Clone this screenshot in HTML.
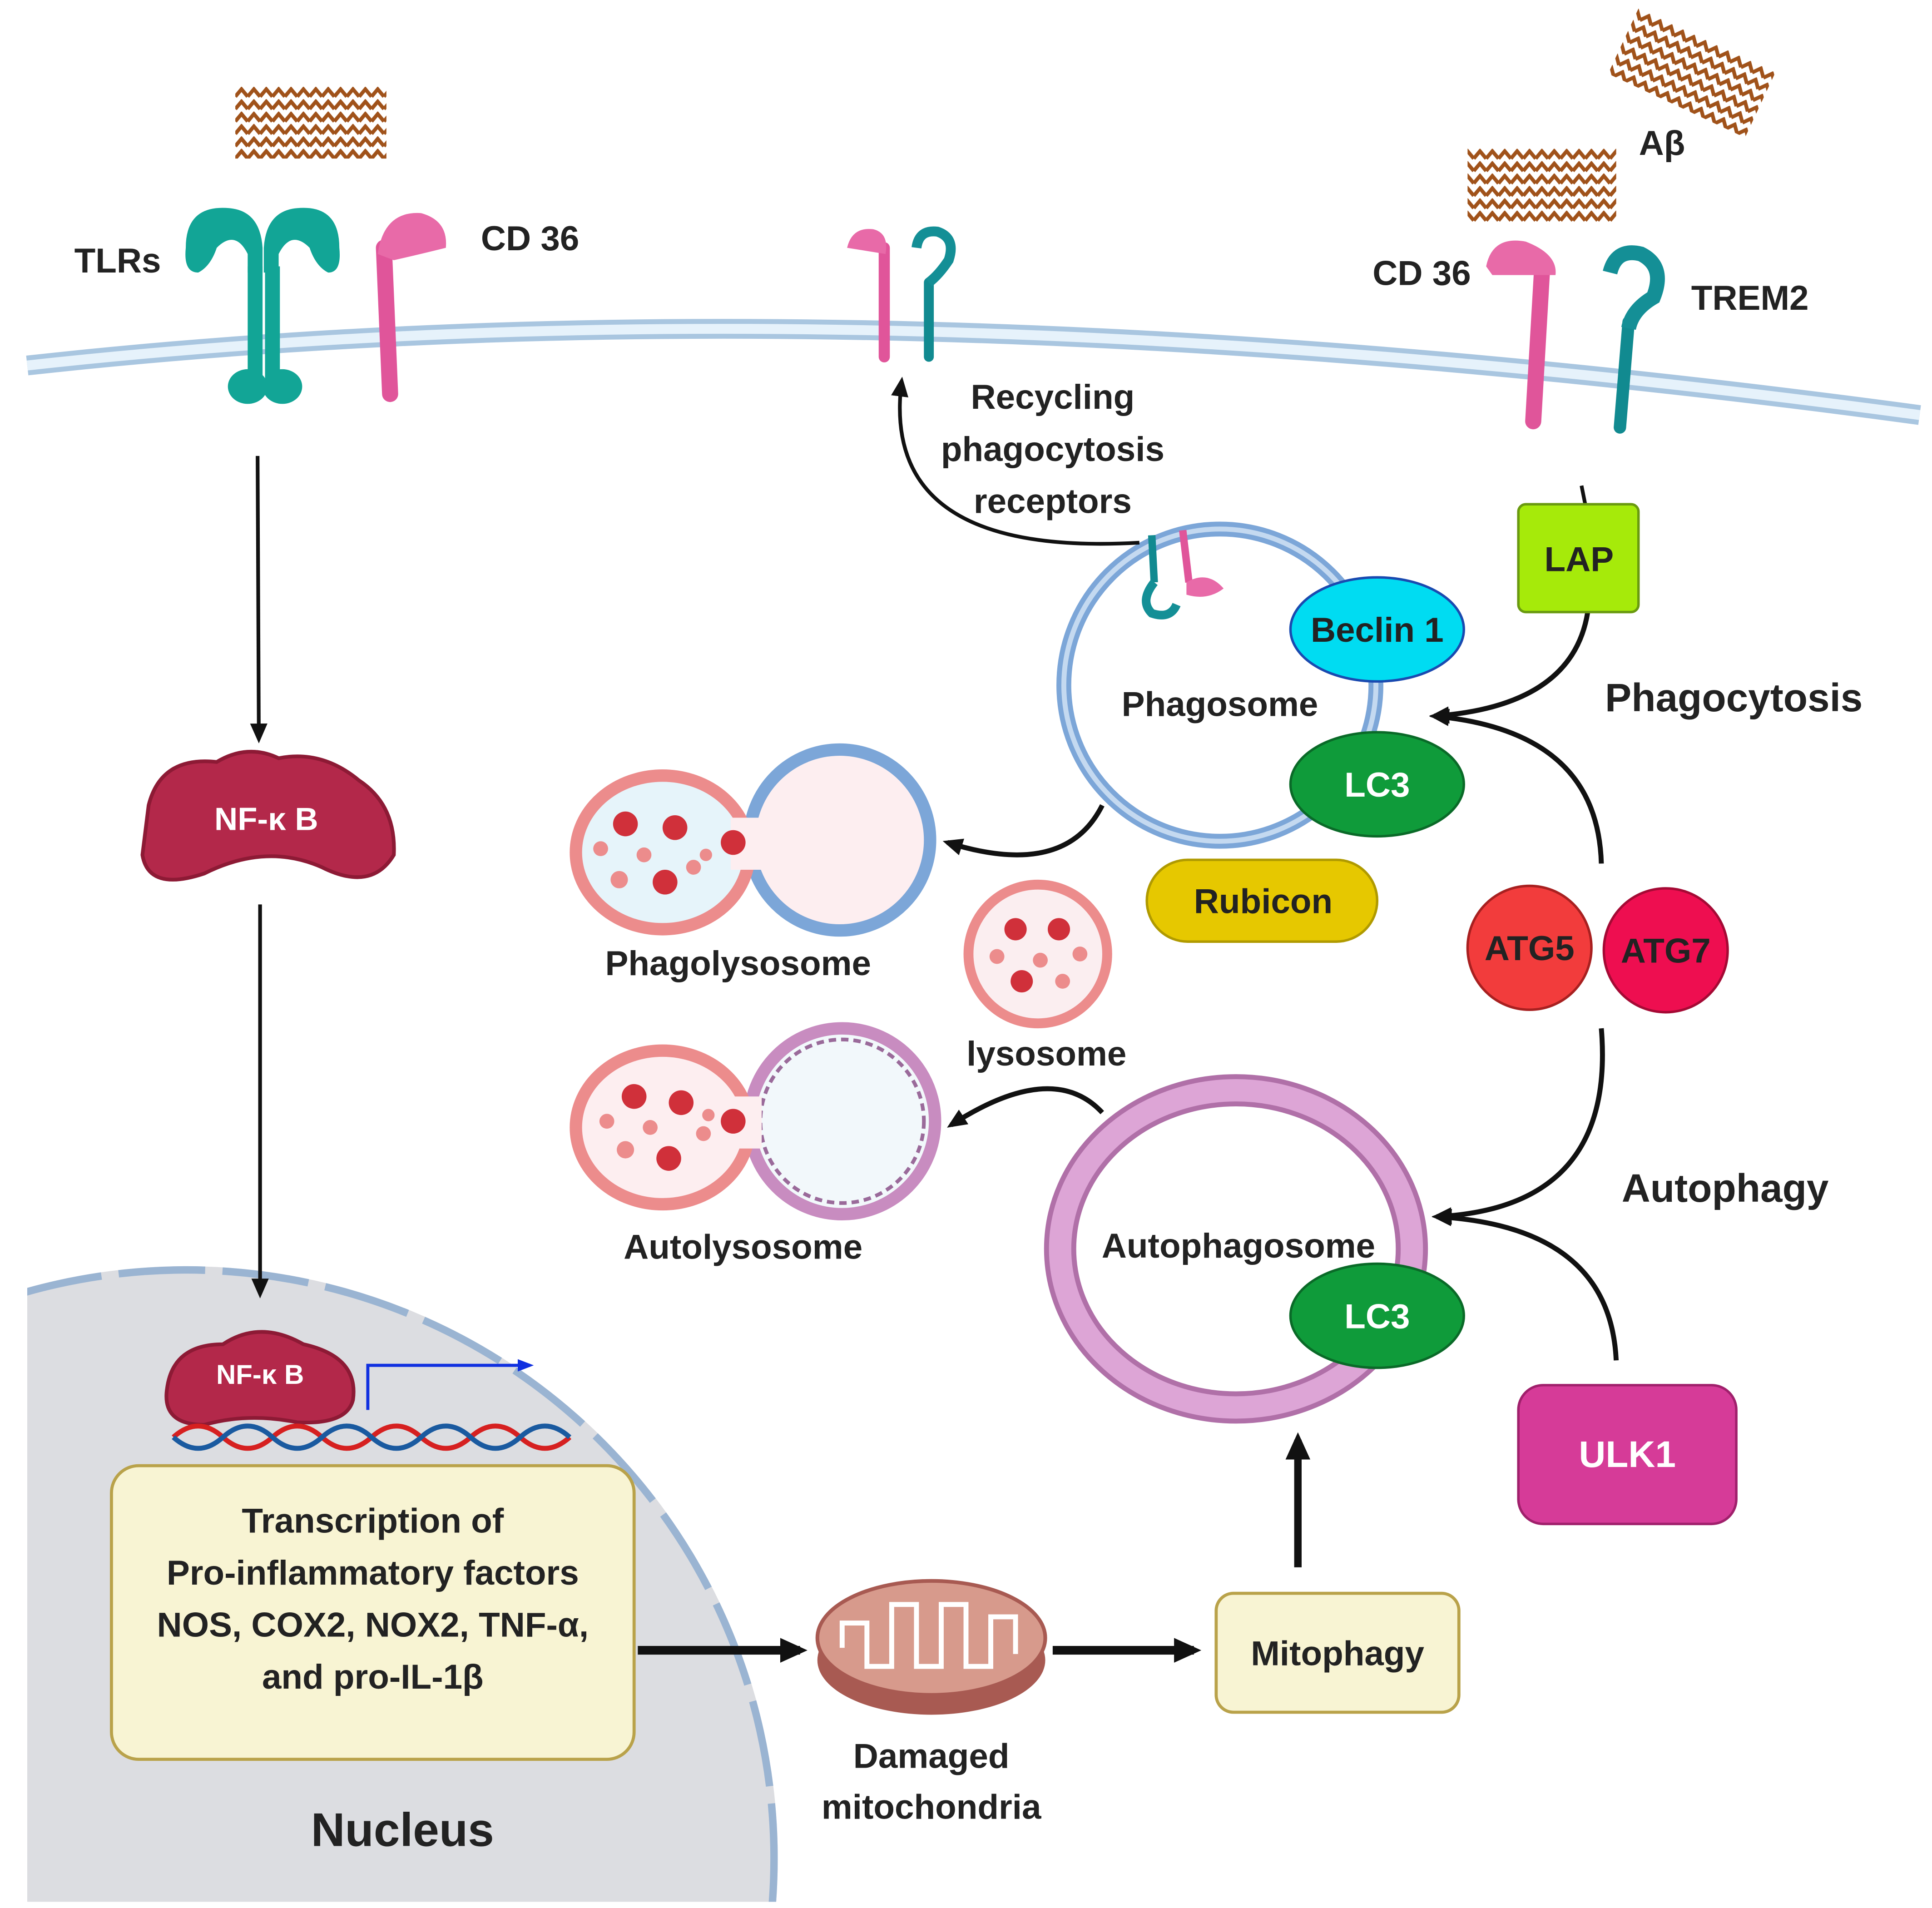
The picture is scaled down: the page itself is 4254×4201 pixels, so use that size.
<!DOCTYPE html>
<html><head><meta charset="utf-8"><style>
html,body{margin:0;padding:0;background:#fff;overflow:hidden;width:4254px;height:4201px;}
svg{display:block;}
text{font-family:"Liberation Sans",sans-serif;font-weight:bold;fill:#222;}
</style></head><body>
<svg width="4254" height="4201" viewBox="0 0 1560 1540" preserveAspectRatio="none" xmlns="http://www.w3.org/2000/svg">
<defs>
<marker id="ah" markerWidth="24" markerHeight="24" refX="16" refY="12" orient="auto" markerUnits="userSpaceOnUse">
<path d="M0,2 L22,12 L0,22 Z" fill="#111"/></marker>
<marker id="ahs" markerWidth="18" markerHeight="18" refX="12" refY="9" orient="auto" markerUnits="userSpaceOnUse">
<path d="M0,2 L16,9 L0,16 Z" fill="#111"/></marker>
<marker id="ahb" markerWidth="14" markerHeight="14" refX="10" refY="7" orient="auto" markerUnits="userSpaceOnUse">
<path d="M0,2 L13,7 L0,12 Z" fill="#1030e0"/></marker>
<pattern id="fib" width="10" height="10" patternUnits="userSpaceOnUse">
<rect width="10" height="10" fill="#fff"/>
<path d="M0,8 L5,2 L10,8" stroke="#a0521a" stroke-width="3" fill="none"/></pattern>
<clipPath id="pg"><rect x="22" y="0" width="1560" height="1535"/></clipPath>
</defs>
<rect width="1560" height="1540" fill="#fff"/>

<!-- nucleus -->
<g clip-path="url(#pg)">
<circle cx="150" cy="1500" r="478" fill="#dcdde1"/>
<circle cx="150" cy="1500" r="475" fill="none" stroke="#9ab4d2" stroke-width="6" stroke-dasharray="70 14"/>
</g>

<!-- membrane -->
<path d="M22,295 Q700,220 1550,335" fill="none" stroke="#a9c6e0" stroke-width="16"/>
<path d="M22,295 Q700,220 1550,335" fill="none" stroke="#e6f2fb" stroke-width="8"/>

<!-- fibrils -->
<rect x="190" y="70" width="122" height="58" fill="url(#fib)"/>
<rect x="1185" y="120" width="120" height="60" fill="url(#fib)"/>
<rect x="1305" y="30" width="122" height="58" fill="url(#fib)" transform="rotate(25 1366 59)"/>
<rect x="955" y="498" width="60" height="30" fill="url(#fib)" transform="rotate(-12 985 513)"/>

<!-- TLRs -->
<g fill="#12a596">
<path d="M150,200 Q150,165 185,168 Q210,170 212,200 L212,220 L200,220 L200,205 Q190,185 175,200 Q170,215 160,220 Q148,220 150,200Z"/>
<path d="M274,200 Q274,165 240,168 Q215,170 213,200 L213,220 L225,220 L225,205 Q235,185 250,200 Q255,215 265,220 Q276,220 274,200Z"/>
<rect x="200" y="215" width="12" height="90"/><rect x="214" y="215" width="12" height="90"/>
<ellipse cx="200" cy="312" rx="16" ry="14"/><ellipse cx="228" cy="312" rx="16" ry="14"/>
</g>
<text x="95" y="220" font-size="28" text-anchor="middle">TLRs</text>
<!-- CD36 left -->
<path d="M310,200 L315,318" stroke="#e0559a" stroke-width="13" stroke-linecap="round"/>
<path d="M305,205 Q310,170 340,172 Q362,178 360,200 Q340,205 318,210Z" fill="#e86aa8"/>
<text x="428" y="202" font-size="28" text-anchor="middle">CD 36</text>

<!-- recycled receptors -->
<path d="M714,200 L714,288" stroke="#e0559a" stroke-width="9" stroke-linecap="round"/>
<path d="M684,200 Q688,183 705,185 Q718,188 715,205Z" fill="#e86aa8"/>
<path d="M750,228 L750,288" stroke="#118a90" stroke-width="8" stroke-linecap="round"/>
<path d="M740,200 Q742,185 757,187 Q772,192 766,210 Q758,222 750,228" fill="none" stroke="#148f96" stroke-width="8"/>

<!-- right receptors -->
<path d="M1245,220 L1238,340" stroke="#e0559a" stroke-width="13" stroke-linecap="round"/>
<path d="M1200,215 Q1205,190 1232,195 Q1258,205 1256,222 Q1230,222 1205,222Z" fill="#e86aa8"/>
<path d="M1315,260 L1308,345" stroke="#118a90" stroke-width="10" stroke-linecap="round"/>
<path d="M1300,220 Q1305,200 1325,205 Q1345,215 1335,240 Q1318,250 1315,265" fill="none" stroke="#148f96" stroke-width="12"/>
<text x="1148" y="230" font-size="28" text-anchor="middle">CD 36</text>
<text x="1413" y="250" font-size="28" text-anchor="middle">TREM2</text>
<text x="1342" y="125" font-size="28" text-anchor="middle">Aβ</text>

<!-- left arrows -->
<line x1="208" y1="368" x2="209" y2="596" stroke="#111" stroke-width="3" marker-end="url(#ahs)"/>
<path d="M120,650 Q130,610 175,615 Q200,600 225,612 Q260,605 290,630 Q320,650 318,690 Q300,720 260,700 Q215,680 165,705 Q120,720 115,690Z" fill="#b3284a" stroke="#8d1a35" stroke-width="3"/>
<text x="215" y="670" font-size="26" text-anchor="middle" style="fill:#fff">NF-κ B</text>
<line x1="210" y1="730" x2="210" y2="1044" stroke="#111" stroke-width="3" marker-end="url(#ahs)"/>

<!-- nucleus contents -->
<path d="M135,1120 Q140,1085 180,1085 Q210,1065 245,1085 Q290,1095 285,1130 Q280,1150 240,1148 Q200,1140 165,1150 Q130,1150 135,1120Z" fill="#b3284a" stroke="#8d1a35" stroke-width="3"/>
<text x="210" y="1117" font-size="22" text-anchor="middle" style="fill:#fff">NF-κ B</text>
<path d="M140,1160 q20,-18 40,0 t40,0 t40,0 t40,0 t40,0 t40,0 t40,0 t40,0" fill="none" stroke="#d62020" stroke-width="4"/>
<path d="M140,1160 q20,18 40,0 t40,0 t40,0 t40,0 t40,0 t40,0 t40,0 t40,0" fill="none" stroke="#1a5aa0" stroke-width="4"/>
<path d="M297,1138 L297,1102 L428,1102" fill="none" stroke="#1030e0" stroke-width="2.5" marker-end="url(#ahb)"/>
<rect x="90" y="1183" width="422" height="237" rx="22" fill="#f8f4d3" stroke="#b9a24a" stroke-width="2.5"/>
<text font-size="28" text-anchor="middle"><tspan x="301" y="1237">Transcription of</tspan><tspan x="301" y="1279">Pro-inflammatory factors</tspan><tspan x="301" y="1321">NOS, COX2, NOX2, TNF-α,</tspan><tspan x="301" y="1363">and pro-IL-1β</tspan></text>
<text x="325" y="1490" font-size="38" text-anchor="middle">Nucleus</text>

<!-- mitochondria -->
<line x1="515" y1="1332" x2="646" y2="1332" stroke="#111" stroke-width="7" marker-end="url(#ah)"/>
<ellipse cx="752" cy="1340" rx="92" ry="44" fill="#a85a52"/>
<ellipse cx="752" cy="1322" rx="92" ry="46" fill="#d79a8c" stroke="#a85a52" stroke-width="3"/>
<path d="M680,1330 L680,1310 L700,1310 L700,1345 L720,1345 L720,1295 L740,1295 L740,1345 L760,1345 L760,1295 L780,1295 L780,1345 L800,1345 L800,1305 L820,1305 L820,1335" fill="none" stroke="#fff" stroke-width="4"/>
<text font-size="28" text-anchor="middle"><tspan x="752" y="1427">Damaged</tspan><tspan x="752" y="1468">mitochondria</tspan></text>
<line x1="850" y1="1332" x2="964" y2="1332" stroke="#111" stroke-width="7" marker-end="url(#ah)"/>
<rect x="982" y="1286" width="196" height="96" rx="14" fill="#f8f4d3" stroke="#b9a24a" stroke-width="2.5"/>
<text x="1080" y="1344" font-size="28" text-anchor="middle">Mitophagy</text>
<line x1="1048" y1="1265" x2="1048" y2="1162" stroke="#111" stroke-width="6" marker-end="url(#ah)"/>

<!-- autophagosome -->
<ellipse cx="998" cy="1008" rx="142" ry="128" fill="none" stroke="#b070a8" stroke-width="26"/>
<ellipse cx="998" cy="1008" rx="142" ry="128" fill="none" stroke="#dda5d6" stroke-width="18"/>
<text x="1000" y="1015" font-size="28" text-anchor="middle">Autophagosome</text>
<ellipse cx="1112" cy="1062" rx="70" ry="42" fill="#0f9b3a" stroke="#0a6a28" stroke-width="2"/>
<text x="1112" y="1072" font-size="28" text-anchor="middle" style="fill:#fff">LC3</text>

<!-- ULK1 & ATGs -->
<rect x="1226" y="1118" width="176" height="112" rx="20" fill="#d63b98" stroke="#a0206c" stroke-width="2"/>
<text x="1314" y="1184" font-size="30" text-anchor="middle" style="fill:#fff">ULK1</text>
<path d="M1305,1098 Q1300,990 1160,982" fill="none" stroke="#111" stroke-width="4" marker-end="url(#ahs)"/>
<path d="M1293,830 Q1305,975 1160,982" fill="none" stroke="#111" stroke-width="4" marker-end="url(#ahs)"/>
<text x="1393" y="970" font-size="32" text-anchor="middle">Autophagy</text>
<circle cx="1235" cy="765" r="50" fill="#f23c3c" stroke="#a82020" stroke-width="2"/>
<circle cx="1345" cy="767" r="50" fill="#ee0e50" stroke="#a50a35" stroke-width="2"/>
<text x="1235" y="775" font-size="28" text-anchor="middle">ATG5</text>
<text x="1345" y="777" font-size="28" text-anchor="middle">ATG7</text>
<path d="M1293,697 Q1290,590 1158,578" fill="none" stroke="#111" stroke-width="4" marker-end="url(#ahs)"/>
<path d="M1282,494 Q1270,570 1158,578" fill="none" stroke="#111" stroke-width="4" marker-end="url(#ahs)"/>
<line x1="1277" y1="392" x2="1280" y2="407" stroke="#111" stroke-width="3"/>
<rect x="1226" y="407" width="97" height="87" rx="6" fill="#a6ea0a" stroke="#6a9a10" stroke-width="2"/>
<text x="1275" y="461" font-size="28" text-anchor="middle">LAP</text>
<text x="1400" y="574" font-size="32" text-anchor="middle">Phagocytosis</text>

<!-- phagosome -->
<circle cx="985" cy="553" r="126" fill="#fff" stroke="#7ca6d8" stroke-width="12"/>
<circle cx="985" cy="553" r="126" fill="none" stroke="#c4d9f0" stroke-width="4"/>
<path d="M930,432 L932,470" stroke="#118a90" stroke-width="6"/>
<path d="M932,470 Q920,485 930,495 Q945,500 950,488" fill="none" stroke="#148f96" stroke-width="7"/>
<path d="M955,428 L960,470" stroke="#e0559a" stroke-width="6"/>
<path d="M958,470 Q975,460 988,475 Q975,485 958,480Z" fill="#e86aa8"/>
<text x="985" y="578" font-size="28" text-anchor="middle">Phagosome</text>
<ellipse cx="1112" cy="508" rx="70" ry="42" fill="#00dcf2" stroke="#1a4ab0" stroke-width="2"/>
<text x="1112" y="518" font-size="28" text-anchor="middle">Beclin 1</text>
<ellipse cx="1112" cy="633" rx="70" ry="42" fill="#0f9b3a" stroke="#0a6a28" stroke-width="2"/>
<text x="1112" y="643" font-size="28" text-anchor="middle" style="fill:#fff">LC3</text>
<rect x="926" y="694" width="186" height="66" rx="33" fill="#e6c800" stroke="#b09a00" stroke-width="2"/>
<text x="1020" y="737" font-size="28" text-anchor="middle">Rubicon</text>

<!-- recycling -->
<path d="M920,438 Q710,450 728,308" fill="none" stroke="#111" stroke-width="3" marker-end="url(#ahs)"/>
<text font-size="28" text-anchor="middle"><tspan x="850" y="330">Recycling</tspan><tspan x="850" y="372">phagocytosis</tspan><tspan x="850" y="414">receptors</tspan></text>

<!-- phagolysosome -->
<path d="M890,650 Q860,710 765,680" fill="none" stroke="#111" stroke-width="4" marker-end="url(#ahs)"/>
<circle cx="678" cy="678" r="73" fill="#fdeef0" stroke="#7ca6d8" stroke-width="10"/>
<ellipse cx="535" cy="688" rx="70" ry="62" fill="#e6f4fa" stroke="#ec8c8c" stroke-width="10"/>
<rect x="590" y="660" width="30" height="42" fill="#fdeef0"/>
<g fill="#d0303a"><circle cx="505" cy="665" r="10"/><circle cx="545" cy="668" r="10"/><circle cx="592" cy="680" r="10"/><circle cx="537" cy="712" r="10"/></g>
<g fill="#ec8c8c"><circle cx="485" cy="685" r="6"/><circle cx="520" cy="690" r="6"/><circle cx="500" cy="710" r="7"/><circle cx="560" cy="700" r="6"/><circle cx="570" cy="690" r="5"/></g>
<text x="596" y="787" font-size="28" text-anchor="middle">Phagolysosome</text>

<!-- lysosome -->
<circle cx="838" cy="770" r="56" fill="#fbeef0" stroke="#ec8c8c" stroke-width="8"/>
<g fill="#d0303a"><circle cx="820" cy="750" r="9"/><circle cx="855" cy="750" r="9"/><circle cx="825" cy="792" r="9"/></g>
<g fill="#ec8c8c"><circle cx="805" cy="772" r="6"/><circle cx="840" cy="775" r="6"/><circle cx="872" cy="770" r="6"/><circle cx="858" cy="792" r="6"/></g>
<text x="845" y="860" font-size="28" text-anchor="middle">lysosome</text>

<!-- autolysosome -->
<path d="M890,898 Q850,855 768,908" fill="none" stroke="#111" stroke-width="4" marker-end="url(#ahs)"/>
<circle cx="680" cy="905" r="75" fill="#f2f8fb" stroke="#c88cc0" stroke-width="10"/>
<circle cx="680" cy="905" r="66" fill="none" stroke="#9a6a9a" stroke-width="3" stroke-dasharray="6 4"/>
<ellipse cx="535" cy="910" rx="70" ry="62" fill="#fdeef0" stroke="#ec8c8c" stroke-width="10"/>
<rect x="590" y="885" width="25" height="42" fill="#fdeef0"/>
<g fill="#d0303a"><circle cx="512" cy="885" r="10"/><circle cx="550" cy="890" r="10"/><circle cx="592" cy="905" r="10"/><circle cx="540" cy="935" r="10"/></g>
<g fill="#ec8c8c"><circle cx="490" cy="905" r="6"/><circle cx="525" cy="910" r="6"/><circle cx="505" cy="928" r="7"/><circle cx="568" cy="915" r="6"/><circle cx="572" cy="900" r="5"/></g>
<text x="600" y="1016" font-size="28" text-anchor="middle">Autolysosome</text>
</svg>
</body></html>
